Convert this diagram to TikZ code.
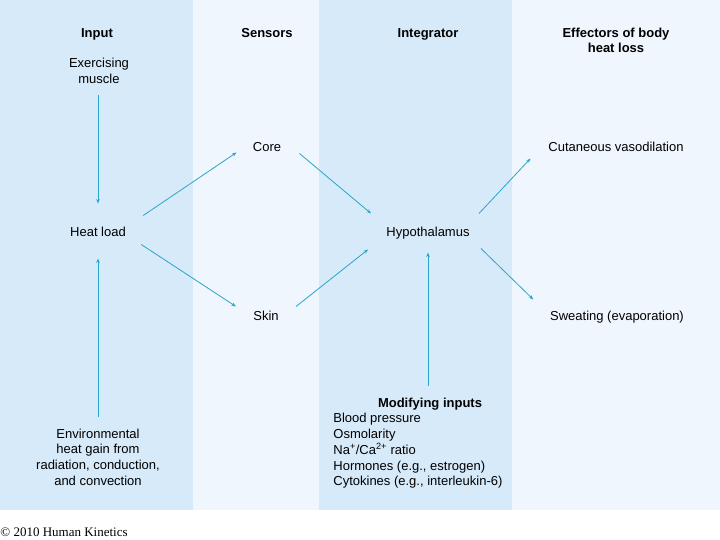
\documentclass[tikz,border=0pt]{standalone}
\usepackage{fontspec}
\setmainfont{Liberation Sans}
\newfontfamily\copyfont{Liberation Serif}
\usetikzlibrary{positioning,arrows.meta}
\definecolor{coldark}{RGB}{215,234,249}
\definecolor{collight}{RGB}{239,246,253}
\definecolor{arrowblue}{RGB}{43,165,199}
\tikzset{
every picture/.style={
line width=0.8pt
}}
\tikzset{
    lbl/.style={
      inner sep=0pt,
      font=\fontsize{13pt}{15.75pt}\selectfont,
      text height=11.5pt,
      text depth=0.7pt
    },
    multi/.style={
      inner sep=0pt,
      align=center,
      font=\fontsize{13pt}{15.75pt}\selectfont
    },
    head/.style={
      multi,
      font=\fontsize{13pt}{15.5pt}\selectfont\bfseries
    },
    arr/.style={
      draw=arrowblue,
      -{Stealth[length=4.5pt,width=3.5pt]}
    }
}
\begin{document}
\begin{tikzpicture}[x=1pt,y=-1pt]
  \useasboundingbox (0,0) rectangle (720,540);

  % columns
  \fill [coldark]  (0,0)   rectangle (193,510);
  \fill [collight] (193,0) rectangle (319,510);
  \fill [coldark]  (319,0) rectangle (512,510);
  \fill [collight] (512,0) rectangle (720,510);

  \node [head] (hinput) at (97,34) {Input};
  \node [head] (hsens)  at (267,33) {Sensors};
  \node [head] (hinteg) at (428,34) {Integrator};
  \node [head] (heff)   at (616,40.5) {Effectors of body\\heat loss};

  \node [multi] (muscle) at (99,71) {Exercising\\muscle};
  \node [lbl] (load) at (98,231) {Heat load};
  \node [multi] (env) at (98,457) {Environmental\\heat gain from\\radiation, conduction,\\and convection};

  \node [lbl] (core) at (267,146) {Core};
  \node [lbl] (skin) at (266,315) {Skin};

  \node [lbl] (hypo) at (428,231) {Hypothalamus};
  \node [head] (mod) at (430,404) {Modifying inputs};
  \node [multi, align=left, anchor=north west] (modlist) at (333,413) {Blood pressure\\Osmolarity\\Na\textsuperscript{+}/Ca\textsuperscript{2+} ratio\\Hormones (e.g., estrogen)\\Cytokines (e.g., interleukin-6)};

  \node [lbl] (cut) at (616,146) {Cutaneous vasodilation};
  \node [lbl] (sweat) at (617,315) {Sweating (evaporation)};

  \node [anchor=west, inner sep=0pt, font=\copyfont\fontsize{13pt}{15pt}\selectfont] (copy) at (0,532) {\textcopyright{} 2010 Human Kinetics};

  \draw [arr] ([yshift=-11pt]muscle.south -| load) -- ([yshift=21pt]load.north);
  \draw [arr] ([yshift=11pt]env.north -| load) -- ([yshift=-21pt]load.south);
  \draw [arr] ([shift={(17pt,9pt)}]load.north east) -- ([xshift=-16pt]core.south west);
  \draw [arr] ([shift={(15pt,-7pt)}]load.south east) -- ([shift={(-17pt,2pt)}]skin.north west);
  \draw [arr] ([shift={(18pt,-1pt)}]core.south east) -- ([shift={(-15pt,11pt)}]hypo.north west);
  \draw [arr] ([shift={(17pt,2pt)}]skin.north east) -- ([shift={(-18pt,-12pt)}]hypo.south west);
  \draw [arr] ([yshift=12pt]mod.north -| hypo) -- ([yshift=-15pt]hypo.south);
  \draw [arr] ([shift={(9pt,11pt)}]hypo.north east) -- ([shift={(-17.5pt,-6pt)}]cut.south west);
  \draw [arr] ([shift={(11pt,-11pt)}]hypo.south east) -- ([shift={(-16.5pt,9pt)}]sweat.north west);
\end{tikzpicture}
\end{document}
